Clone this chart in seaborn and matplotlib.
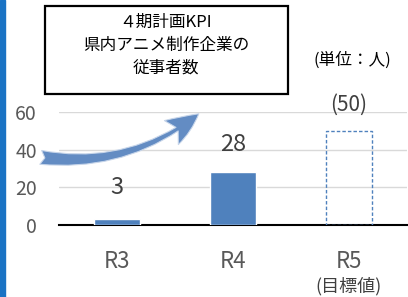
import matplotlib
matplotlib.use("Agg")
import matplotlib.pyplot as plt
import seaborn as sns
from matplotlib.patches import Rectangle, FancyArrowPatch

# Data
years = ["R3", "R4", "R5"]
staff = [3, 28, 50]
value_labels = ["3", "28", "(50)"]
yticks = [0, 20, 40, 60]

sns.set_style("white")
plt.rcParams['font.family'] = ['Noto Sans CJK JP', 'DejaVu Sans']

fig = plt.figure(figsize=(4.08, 2.97), dpi=100)
ax = fig.add_axes([0.145, 0.2424, 0.852, 0.3805])

bar_color = "#4f81bd"
sns.barplot(x=years, y=staff, color=bar_color, width=0.4, saturation=1, ax=ax, zorder=3)

# target bar: dashed outline only
target = ax.patches[2]
target.set_facecolor("none")
target.set_edgecolor(bar_color)
target.set_linestyle((0, (2.5, 1.5)))
target.set_linewidth(1.0)

# value labels
offsets = [17, 15, 14]
sizes = [17, 17, 15]
for i, (v, lab) in enumerate(zip(staff, value_labels)):
    ax.text(i, v + offsets[i], lab, ha="center", va="center", fontsize=sizes[i], color="#404040")

ax.set_ylim(0, 60)
ax.set_xlim(-0.5, 2.5)
ax.set_yticks(yticks)
ax.set_yticklabels([str(t) for t in yticks], fontsize=14, color="#595959")
ax.tick_params(axis="y", length=0, pad=16)
ax.yaxis.grid(True, color="#d9d9d9", linewidth=1)
ax.set_axisbelow(True)

ax.set_xticks([0, 1, 2])
ax.set_xticklabels(years, fontsize=16, color="#595959")
ax.tick_params(axis="x", which="major", length=0, pad=18)
ax.set_xticks([-0.5, 0.5, 1.5, 2.5], minor=True)
ax.tick_params(axis="x", which="minor", length=6, width=1.5, color="black", direction="out")
ax.text(2, -0.54, "(目標値)", transform=ax.get_xaxis_transform(), ha="center", va="center",
        fontsize=13, color="#404040")

for s in ["top", "right", "left"]:
    ax.spines[s].set_visible(False)
ax.spines["bottom"].set_color("black")
ax.spines["bottom"].set_linewidth(1.5)
ax.set_xlabel("")
ax.set_ylabel("")

# left blue stripe
fig.add_artist(Rectangle((0, 0), 5 / 408, 1, transform=fig.transFigure, color="#1a73c4", zorder=5))

# curved arrow
arrow = FancyArrowPatch((38 / 408, 1 - 157 / 297), (201 / 408, 1 - 112 / 297),
                        transform=fig.transFigure, connectionstyle="arc3,rad=0.22",
                        arrowstyle="fancy,head_length=24,head_width=20,tail_width=10",
                        facecolor="#5b86c0", edgecolor="#c8d6ea", linewidth=0.8,
                        alpha=0.95, zorder=4)
fig.add_artist(arrow)

# title box
fig.add_artist(Rectangle((45 / 408, 1 - 94 / 297), 243 / 408, 88 / 297, transform=fig.transFigure,
                         facecolor="white", edgecolor="black", linewidth=1.6, zorder=6))
for y, line in zip([22, 45, 68], ["４期計画KPI", "県内アニメ制作企業の", "従事者数"]):
    fig.text(166 / 408, 1 - y / 297, line, ha="center", va="center", fontsize=12,
             color="black", zorder=7)

fig.text(352 / 408, 1 - 60 / 297, "(単位：人)", ha="center", va="center", fontsize=12, color="black")

fig.savefig("out.png", dpi=100)
